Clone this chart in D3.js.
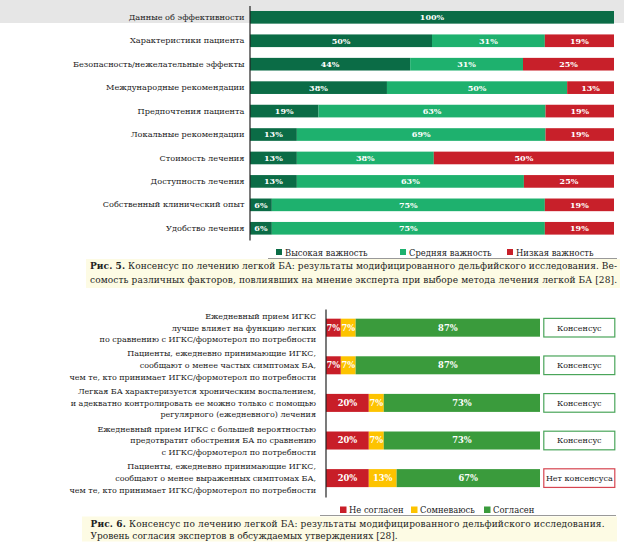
<!DOCTYPE html>
<html>
<head>
<meta charset="utf-8">
<script src="https://cdn.jsdelivr.net/npm/d3@7"></script>
<style>
  body { margin: 0; background: #fff; }
  svg { display: block; font-family: "DejaVu Serif", serif; }
</style>
</head>
<body>
<div id="chart"></div>
<script>
// Рис. 5 — факторы
const factors = [
    "Данные об эффективности",
    "Характеристики пациента",
    "Безопасность/нежелательные эффекты",
    "Международные рекомендации",
    "Предпочтения пациента",
    "Локальные рекомендации",
    "Стоимость лечения",
    "Доступность лечения",
    "Собственный клинический опыт",
    "Удобство лечения"
];
const highImp = [100, 50, 44, 38, 19, 13, 13, 13, 6, 6];
const midImp = [0, 31, 31, 50, 63, 69, 38, 63, 75, 75];
const lowImp = [0, 19, 25, 13, 19, 19, 50, 25, 19, 19];
const legend1 = ["Высокая важность", "Средняя важность", "Низкая важность"];

// Рис. 6 — утверждения
const statements = [
    ["Ежедневный прием ИГКС", "лучше влияет на функцию легких", "по сравнению с ИГКС/формотерол по потребности"],
    ["Пациенты, ежедневно принимающие ИГКС,", "сообщают о менее частых симптомах БА,", "чем те, кто принимает ИГКС/формотерол по потребности"],
    ["Легкая БА характеризуется хроническим воспалением,", "и адекватно контролировать ее можно только с помощью", "регулярного (ежедневного) лечения"],
    ["Ежедневный прием ИГКС с большей вероятностью", "предотвратит обострения БА по сравнению", "с ИГКС/формотерол по потребности"],
    ["Пациенты, ежедневно принимающие ИГКС,", "сообщают о менее выраженных симптомах БА,", "чем те, кто принимает ИГКС/формотерол по потребности"]
];
const disagree = [7, 7, 20, 20, 20];
const doubt = [7, 7, 7, 7, 13];
const agree = [87, 87, 73, 73, 67];
const verdicts = ["Консенсус", "Консенсус", "Консенсус", "Консенсус", "Нет консенсуса"];
const legend2 = ["Не согласен", "Сомневаюсь", "Согласен"];

const captions1 = [
    ["Рис. 5.", " Консенсус по лечению легкой БА: результаты модифицированного дельфийского исследования. Ве-"],
    ["", "сомость различных факторов, повлиявших на мнение эксперта при выборе метода лечения легкой БА [28]."]
];
const captions2 = [
    ["Рис. 6.", " Консенсус по лечению легкой БА: результаты модифицированного дельфийского исследования."],
    ["", "Уровень согласия экспертов в обсуждаемых утверждениях [28]."]
];

const width = 624, height = 551;
const svg = d3.select("#chart").append("svg")
    .attr("width", width)
    .attr("height", height);

// серая полоса сверху (фон скана)
svg.append("rect").attr("x", 0).attr("y", 0).attr("width", width).attr("height", 23).attr("fill", "#e6e6e6");

// ---------- chart 1 ----------
const rows1 = factors.map((f, i) => ({ name: f, high: highImp[i], mid: midImp[i], low: lowImp[i] }));
const keys1 = ["high", "mid", "low"];
const color1 = d3.scaleOrdinal().domain(keys1).range(["#0b6c46", "#1eb16e", "#c8202a"]);
const stack1 = d3.stack().keys(keys1).offset(d3.stackOffsetExpand)(rows1);

const x1 = d3.scaleLinear().domain([0, 1]).range([250, 614]);
const y1 = d3.scaleBand().domain(factors).range([5.6, 240]).paddingInner(0.46).paddingOuter(0.23);

const g1 = svg.append("g");
stack1.forEach(layer => {
    const lg = g1.append("g").attr("fill", color1(layer.key));
    lg.selectAll("rect")
        .data(layer.filter(d => d.data[layer.key] > 0))
        .join("rect")
        .attr("x", d => x1(d[0]))
        .attr("y", d => y1(d.data.name))
        .attr("width", d => x1(d[1]) - x1(d[0]))
        .attr("height", y1.bandwidth());
    lg.selectAll("text")
        .data(layer.filter(d => d.data[layer.key] > 0))
        .join("text")
        .attr("x", d => (x1(d[0]) + x1(d[1])) / 2)
        .attr("y", d => y1(d.data.name) + y1.bandwidth() / 2)
        .attr("dy", "0.36em")
        .attr("text-anchor", "middle")
        .attr("fill", "#fff")
        .attr("font-weight", "bold")
        .attr("font-size", 8)
        .text(d => d.data[layer.key] + "%");
});

const ax1 = svg.append("g")
    .attr("transform", "translate(249.5,0)")
    .call(d3.axisLeft(y1).tickSize(0).tickSizeOuter(0).tickPadding(5));
ax1.select(".domain").attr("stroke", "#222").attr("stroke-width", 1.2);
ax1.selectAll("text").attr("font-family", "DejaVu Serif").attr("font-size", 8.2).attr("fill", "#222");

// legend 1
const lx1 = [276, 400, 507];
const lg1 = svg.append("g");
legend1.forEach((t, i) => {
    lg1.append("rect").attr("x", lx1[i]).attr("y", 249).attr("width", 6).attr("height", 6).attr("fill", color1(keys1[i]));
    lg1.append("text").attr("x", lx1[i] + 9).attr("y", 255.5).attr("font-size", 8.4).attr("fill", "#222").text(t);
});
svg.append("line").attr("x1", 268).attr("x2", 617).attr("y1", 258.5).attr("y2", 258.5).attr("stroke", "#999").attr("stroke-width", 1);

function caption(lines, bx, by, bw, bh, tx, ty, lh, lens) {
    svg.append("rect").attr("x", bx).attr("y", by).attr("width", bw).attr("height", bh).attr("fill", "#fdfbe4");
    lines.forEach((l, i) => {
        const t = svg.append("text").attr("x", tx).attr("y", ty + i * lh).attr("font-size", 9).attr("fill", "#222")
            .attr("xml:space", "preserve");
        if (lens[i]) t.attr("textLength", lens[i]).attr("lengthAdjust", "spacing");
        if (l[0]) t.append("tspan").attr("font-weight", "bold").text(l[0]);
        t.append("tspan").text(l[1]);
    });
}
caption(captions1, 86, 259, 534, 29, 90, 269, 13.5, [527, 527]);

// ---------- chart 2 ----------
const rows2 = statements.map((s, i) => ({ id: i, lines: s, dis: disagree[i], dbt: doubt[i], agr: agree[i], verdict: verdicts[i] }));
const keys2 = ["dis", "dbt", "agr"];
const color2 = d3.scaleOrdinal().domain(keys2).range(["#c81e28", "#fdc300", "#3a9b3c"]);
const stack2 = d3.stack().keys(keys2).offset(d3.stackOffsetExpand)(rows2);

const x2 = d3.scaleLinear().domain([0, 1]).range([326, 540]);
const y2 = d3.scaleBand().domain(rows2.map(d => d.id)).range([308.9, 496.9]).paddingInner(0.521).paddingOuter(0.26);

const g2 = svg.append("g");
stack2.forEach(layer => {
    const lg = g2.append("g").attr("fill", color2(layer.key));
    lg.selectAll("rect")
        .data(layer)
        .join("rect")
        .attr("x", d => x2(d[0]))
        .attr("y", d => y2(d.data.id))
        .attr("width", d => x2(d[1]) - x2(d[0]))
        .attr("height", y2.bandwidth());
    lg.selectAll("text")
        .data(layer)
        .join("text")
        .attr("x", d => (x2(d[0]) + x2(d[1])) / 2)
        .attr("y", d => y2(d.data.id) + y2.bandwidth() / 2)
        .attr("dy", "0.36em")
        .attr("text-anchor", "middle")
        .attr("fill", "#fff")
        .attr("font-weight", "bold")
        .attr("font-size", 8.3)
        .text(d => d.data[layer.key] + "%");
});

const ax2 = svg.append("g")
    .attr("transform", "translate(325.5,0)")
    .call(d3.axisLeft(y2).tickSize(0).tickSizeOuter(0).tickFormat(""));
ax2.select(".domain").attr("stroke", "#222").attr("stroke-width", 1.2);

const lab2 = svg.append("g").attr("text-anchor", "end").attr("font-size", 8).attr("fill", "#222");
rows2.forEach(r => {
    const cy = y2(r.id) + y2.bandwidth() / 2;
    const t = lab2.append("text");
    r.lines.forEach((l, j) => {
        t.append("tspan").attr("x", 316).attr("y", cy + (j - 1) * 11.7).attr("dy", "0.36em").text(l);
    });
});

// consensus boxes
const box = svg.append("g");
rows2.forEach(r => {
    const ok = r.verdict === "Консенсус";
    box.append("rect")
        .attr("x", 543.8).attr("y", y2(r.id) - 0.3)
        .attr("width", 71).attr("height", y2.bandwidth() + 0.6)
        .attr("fill", "#fff")
        .attr("stroke", ok ? "#4aa55a" : "#d64550")
        .attr("stroke-width", 1.2);
    box.append("text")
        .attr("x", 579.3).attr("y", y2(r.id) + y2.bandwidth() / 2).attr("dy", "0.36em")
        .attr("text-anchor", "middle").attr("font-size", 8).attr("fill", "#222")
        .text(r.verdict);
});

// legend 2
const lx2 = [340, 411, 484];
const lg2 = svg.append("g");
legend2.forEach((t, i) => {
    lg2.append("rect").attr("x", lx2[i]).attr("y", 506.5).attr("width", 6.5).attr("height", 6.5).attr("fill", color2(keys2[i]));
    lg2.append("text").attr("x", lx2[i] + 9).attr("y", 513).attr("font-size", 8.4).attr("fill", "#222").text(t);
});
svg.append("line").attr("x1", 320).attr("x2", 616).attr("y1", 515.5).attr("y2", 515.5).attr("stroke", "#999").attr("stroke-width", 1);

caption(captions2, 82, 516.5, 535, 25, 90.5, 527, 12, [514, 0]);
</script>
</body>
</html>
